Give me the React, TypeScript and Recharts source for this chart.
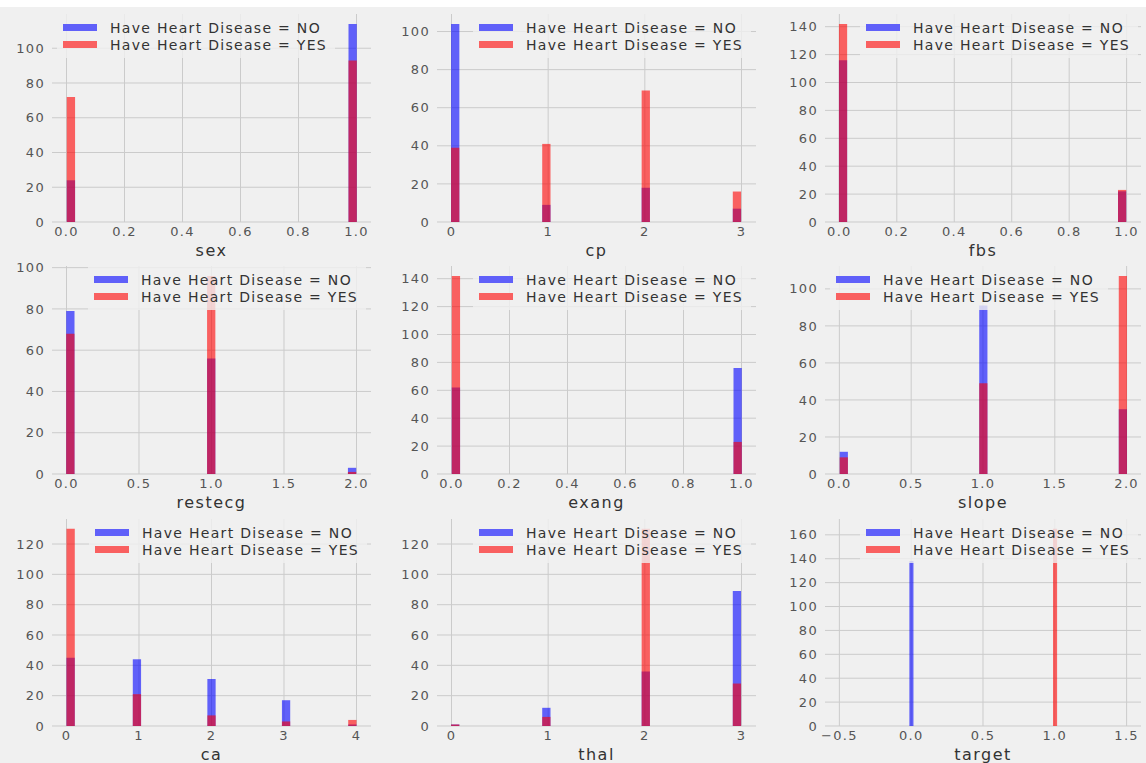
import { BarChart, Bar, XAxis, YAxis, CartesianGrid, Legend } from "recharts";

const BINS = 35;
const NO_LABEL = "Have Heart Disease = NO";
const YES_LABEL = "Have Heart Disease = YES";

// counts per feature value, split by target (NO = 0, YES = 1)
const sexValues = [0, 1];
const sexNo = [24, 114];
const sexYes = [72, 93];

const cpValues = [0, 1, 2, 3];
const cpNo = [104, 9, 18, 7];
const cpYes = [39, 41, 69, 16];

const fbsValues = [0, 1];
const fbsNo = [116, 22];
const fbsYes = [142, 23];

const restecgValues = [0, 1, 2];
const restecgNo = [79, 56, 3];
const restecgYes = [68, 96, 1];

const exangValues = [0, 1];
const exangNo = [62, 76];
const exangYes = [142, 23];

const slopeValues = [0, 1, 2];
const slopeNo = [12, 91, 35];
const slopeYes = [9, 49, 107];

const caValues = [0, 1, 2, 3, 4];
const caNo = [45, 44, 31, 17, 1];
const caYes = [130, 21, 7, 3, 4];

const thalValues = [0, 1, 2, 3];
const thalNo = [1, 12, 36, 89];
const thalYes = [1, 6, 130, 28];

const targetValues = [0, 1];
const targetNo = [138, 0];
const targetYes = [0, 165];

// tick labels
const unitTicks = [0, 0.2, 0.4, 0.6, 0.8, 1.0];
const halfTicks = [0, 0.5, 1.0, 1.5, 2.0];
const targetTicks = [-0.5, 0, 0.5, 1.0, 1.5];
const y100 = [0, 20, 40, 60, 80, 100];
const y120 = [0, 20, 40, 60, 80, 100, 120];
const y140 = [0, 20, 40, 60, 80, 100, 120, 140];
const y160 = [0, 20, 40, 60, 80, 100, 120, 140, 160];

const panels = [
  { name: "sex", values: sexValues, no: sexNo, yes: sexYes, xTicks: unitTicks, yTicks: y100, dec: 1 },
  { name: "cp", values: cpValues, no: cpNo, yes: cpYes, xTicks: [0, 1, 2, 3], yTicks: y100, dec: 0 },
  { name: "fbs", values: fbsValues, no: fbsNo, yes: fbsYes, xTicks: unitTicks, yTicks: y140, dec: 1 },
  { name: "restecg", values: restecgValues, no: restecgNo, yes: restecgYes, xTicks: halfTicks, yTicks: y100, dec: 1 },
  { name: "exang", values: exangValues, no: exangNo, yes: exangYes, xTicks: unitTicks, yTicks: y140, dec: 1 },
  { name: "slope", values: slopeValues, no: slopeNo, yes: slopeYes, xTicks: halfTicks, yTicks: y100, dec: 1 },
  { name: "ca", values: caValues, no: caNo, yes: caYes, xTicks: [0, 1, 2, 3, 4], yTicks: y120, dec: 0 },
  { name: "thal", values: thalValues, no: thalNo, yes: thalYes, xTicks: [0, 1, 2, 3], yTicks: y120, dec: 0 },
  { name: "target", values: targetValues, no: targetNo, yes: targetYes, xTicks: targetTicks, yTicks: y160, dec: 1 },
];

// layout of the 3x3 grid (plot areas, page pixels)
const COL_LEFT = [52, 437, 825];
const COL_WIDTH = [319, 319, 316];
const ROW_TOP = [14, 266, 519];
const ROW_HEIGHT = [208, 208, 207];
const LEGEND_HANDLE_X = [63, 479, 866, 94, 479, 836, 95, 479, 866];

const M_TOP = 8;
const M_LEFT = 10;
const Y_W = 40;
const X_H = 40;

const BG = "#f0f0f0";
const FONT = "'DejaVu Sans', sans-serif";

// numpy-style bins: range = [min, max] of present values
function histogram(values: number[], counts: number[]) {
  const present = values.filter((_, i) => counts[i] > 0);
  let lo = Math.min(...present);
  let hi = Math.max(...present);
  if (lo === hi) {
    lo -= 0.5;
    hi += 0.5;
  }
  const w = (hi - lo) / BINS;
  const bins = values
    .map((v, i) => ({ v, c: counts[i] }))
    .filter((d) => d.c > 0)
    .map((d) => {
      const idx = Math.min(Math.floor((d.v - lo) / w), BINS - 1);
      return { x: lo + (idx + 0.5) * w, c: d.c };
    });
  return { lo, hi, w, bins };
}

function fmt(v: number, dec: number) {
  const s = Math.abs(v).toFixed(dec);
  return v < 0 ? "\u2212" + s : s;
}

function LegendBox() {
  const items = [
    { label: NO_LABEL, color: "rgb(96,96,249)" },
    { label: YES_LABEL, color: "rgb(249,96,96)" },
  ];
  return (
    <div
      style={{
        display: "inline-block",
        background: "rgba(240,240,240,0.8)",
        padding: "5px 8px 5px 6px",
        fontFamily: FONT,
        fontSize: 14,
        letterSpacing: 1.3,
        color: "#333",
      }}
    >
      {items.map((it) => (
        <div key={it.label} style={{ display: "flex", alignItems: "center", height: 17, whiteSpace: "nowrap" }}>
          <span style={{ display: "inline-block", width: 34, height: 7, background: it.color, marginRight: 13 }} />
          {it.label}
        </div>
      ))}
    </div>
  );
}

function Panel({ p, index }: { p: (typeof panels)[number]; index: number }) {
  const col = index % 3;
  const row = Math.floor(index / 3);
  const plotW = COL_WIDTH[col];
  const plotH = ROW_HEIGHT[row];
  const hNo = histogram(p.values, p.no);
  const hYes = histogram(p.values, p.yes);

  const lo = Math.min(hNo.lo, hYes.lo);
  const hi = Math.max(hNo.hi, hYes.hi);
  const pad = (hi - lo) * 0.05;
  const xDomain = [lo - pad, hi + pad];
  const yMax = Math.max(...p.no, ...p.yes) * 1.05;

  const map = new Map<string, { x: number; no: number; yes: number }>();
  hNo.bins.forEach((b) => {
    const k = b.x.toFixed(6);
    const r = map.get(k) || { x: b.x, no: 0, yes: 0 };
    r.no = b.c;
    map.set(k, r);
  });
  hYes.bins.forEach((b) => {
    const k = b.x.toFixed(6);
    const r = map.get(k) || { x: b.x, no: 0, yes: 0 };
    r.yes = b.c;
    map.set(k, r);
  });
  const data = [...map.values()].sort((a, b) => a.x - b.x);

  const pxPerUnit = plotW / (xDomain[1] - xDomain[0]);
  const chartLeft = COL_LEFT[col] - M_LEFT - Y_W;
  const chartTop = ROW_TOP[row] - M_TOP;

  const tick = { fill: "#555", fontSize: 13, fontFamily: FONT, letterSpacing: 1.3 };

  return (
    <div style={{ position: "absolute", left: chartLeft, top: chartTop }}>
      <BarChart
        width={M_LEFT + Y_W + plotW + 4}
        height={M_TOP + plotH + X_H}
        data={data}
        margin={{ top: M_TOP, right: 4, left: M_LEFT, bottom: 0 }}
      >
        <CartesianGrid xAxisId="no" stroke="#cbcbcb" strokeWidth={1} syncWithTicks />
        <XAxis
          xAxisId="no"
          type="number"
          dataKey="x"
          domain={xDomain}
          ticks={p.xTicks}
          interval={0}
          allowDataOverflow
          height={X_H}
          axisLine={false}
          tickLine={false}
          tickSize={0}
          tickMargin={5}
          tick={tick}
          tickFormatter={(v: number) => fmt(v, p.dec)}
          label={{ value: p.name, position: "insideBottom", offset: 6, fill: "#333", fontSize: 16, fontFamily: FONT, letterSpacing: 1.5 }}
        />
        <XAxis xAxisId="yes" type="number" dataKey="x" domain={xDomain} allowDataOverflow hide />
        <YAxis
          type="number"
          domain={[0, yMax]}
          ticks={p.yTicks}
          interval={0}
          allowDataOverflow
          width={Y_W}
          axisLine={false}
          tickLine={false}
          tickSize={0}
          tickMargin={7}
          tick={tick}
        />
        <Bar
          xAxisId="no"
          dataKey="no"
          name={NO_LABEL}
          fill="blue"
          fillOpacity={0.6}
          barSize={hNo.w * pxPerUnit}
          isAnimationActive={false}
        />
        <Bar
          xAxisId="yes"
          dataKey="yes"
          name={YES_LABEL}
          fill="red"
          fillOpacity={0.6}
          barSize={hYes.w * pxPerUnit}
          isAnimationActive={false}
        />
        <Legend
          layout="horizontal"
          verticalAlign="middle"
          align="center"
          content={() => <LegendBox />}
          wrapperStyle={{ left: LEGEND_HANDLE_X[index] - 6 - chartLeft, top: M_TOP, width: "auto", height: "auto" }}
        />
      </BarChart>
    </div>
  );
}

export default function App() {
  return (
    <div style={{ position: "absolute", left: 0, top: 0, width: 1146, height: 763, background: BG, overflow: "hidden" }}>
      <div style={{ position: "absolute", left: 0, top: 0, width: 1146, height: 7, background: "#fff" }} />
      {panels.map((p, i) => (
        <Panel key={p.name} p={p} index={i} />
      ))}
    </div>
  );
}
